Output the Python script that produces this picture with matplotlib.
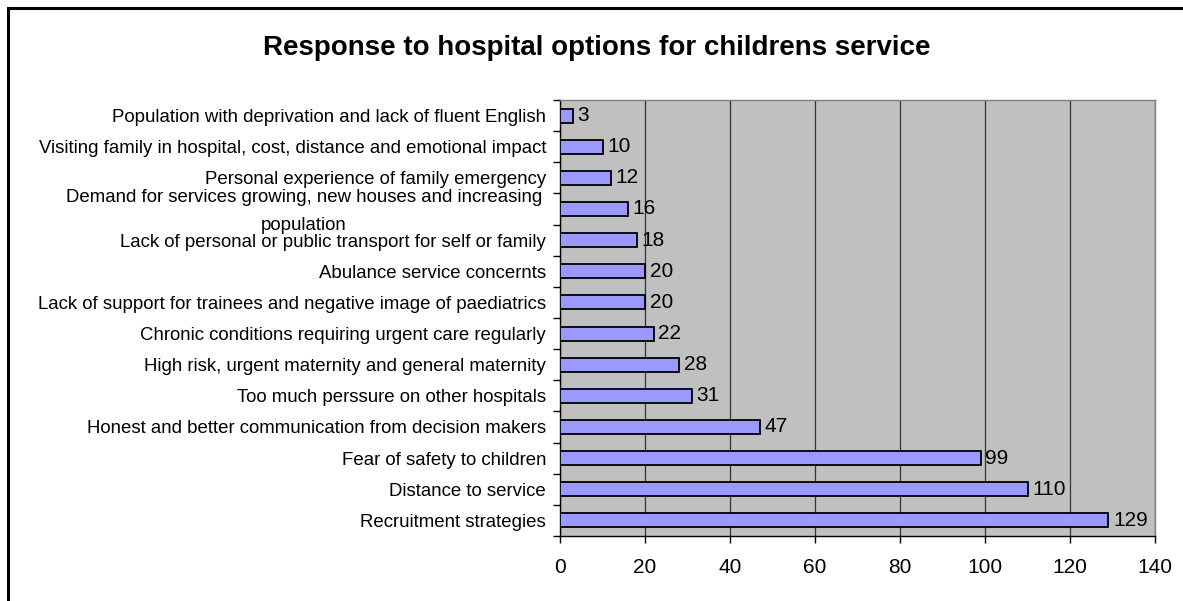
#! /usr/bin/env python3

import matplotlib
matplotlib.use("Agg")
import matplotlib.pyplot as plt
from matplotlib.patches import Rectangle
import numpy

# categories listed bottom to top
categories = [
    "Recruitment strategies",
    "Distance to service",
    "Fear of safety to children",
    "Honest and better communication from decision makers",
    "Too much perssure on other hospitals",
    "High risk, urgent maternity and general maternity",
    "Chronic conditions requiring urgent care regularly",
    "Lack of support for trainees and negative image of paediatrics",
    "Abulance service concernts",
    "Lack of personal or public transport for self or family",
    "Demand for services growing, new houses and increasing\npopulation",
    "Personal experience of family emergency",
    "Visiting family in hospital, cost, distance and emotional impact",
    "Population with deprivation and lack of fluent English",
]
responses = [129, 110, 99, 47, 31, 28, 22, 20, 20, 18, 16, 12, 10, 3]
xticks = [0, 20, 40, 60, 80, 100, 120, 140]

plt.rcParams["font.family"] = ["Liberation Sans", "DejaVu Sans"]

fig = plt.figure(figsize=(11.83, 6.01), dpi=100)
ax = fig.add_axes([0.4734, 0.1082, 0.5030, 0.7255])

# outer chart frame
fig.patches.append(Rectangle((8 / 1183, -0.1), 1.2, 1 - 8 / 601 + 0.1,
                             transform=fig.transFigure, fill=False,
                             edgecolor="black", linewidth=2.2))

y = numpy.arange(len(categories))
ax.set_facecolor("#C0C0C0")
ax.barh(y, responses, height=0.45, color="#9999FF", edgecolor="black",
        linewidth=1.3, zorder=3)

for yi, v in zip(y, responses):
    ax.text(v + 1.1, yi, str(v), va="center", ha="left", fontsize=15, zorder=4)

ax.set_xlim(0, 140)
ax.set_ylim(-0.5, len(categories) - 0.5)
ax.set_xticks(xticks)
ax.set_xticklabels([str(t) for t in xticks], fontsize=15)
ax.xaxis.grid(True, color="#333333", linewidth=0.9, zorder=1)
ax.set_axisbelow(True)

# category names: single-line ones as tick labels, wrapped one drawn by hand
ax.set_yticks(y)
ax.set_yticklabels(["" if "\n" in c else c for c in categories], fontsize=13.4)
for yi, c in zip(y, categories):
    if "\n" in c:
        ax.annotate(c, xy=(0, yi), xycoords=("axes fraction", "data"),
                    xytext=(-13, -2), textcoords="offset points",
                    ha="right", va="center", multialignment="center",
                    linespacing=1.86, fontsize=13.4)
ax.tick_params(axis="y", length=0, pad=10)
ax.set_yticks(numpy.arange(-0.5, len(categories), 1), minor=True)
ax.tick_params(axis="y", which="minor", length=5, width=1, direction="out")
ax.tick_params(axis="x", length=5, width=1, direction="out", pad=11)

for side in ["top", "right"]:
    ax.spines[side].set_color("#808080")
    ax.spines[side].set_linewidth(1)
for side in ["left", "bottom"]:
    ax.spines[side].set_color("black")
    ax.spines[side].set_linewidth(1)

fig.text(597 / 1183, 1 - 48 / 601, "Response to hospital options for childrens service",
         ha="center", va="center", fontsize=20, fontweight="bold")

plt.savefig("out.png", dpi=100)
